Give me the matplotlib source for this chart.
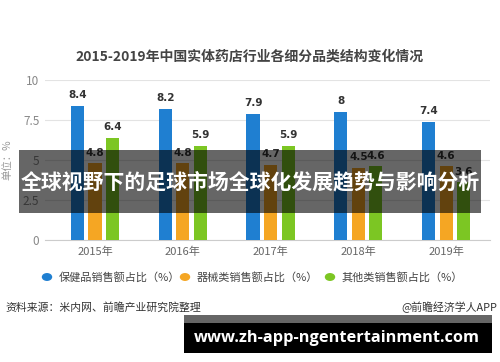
import matplotlib.pyplot as plt
import numpy as np
from matplotlib.patches import Rectangle

plt.rcParams['font.family'] = ['Noto Sans CJK SC', 'DejaVu Sans']

# data
years = ['2015年', '2016年', '2017年', '2018年', '2019年']
health = [8.4, 8.2, 7.9, 8, 7.4]
device = [4.8, 4.8, 4.7, 4.5, 4.6]
other = [6.4, 5.9, 5.9, 4.6, 3.6]
series_names = ['保健品销售额占比（%）', '器械类销售额占比（%）', '其他类销售额占比（%）']
y_ticks = [0, 2.5, 5, 7.5, 10]
y_tick_labels = ['0', '2.5', '5', '7.5', '10']

colors = ['#1f7fd1', '#f5a623', '#7cc623']

W, H = 500, 362
fig = plt.figure(figsize=(W / 100, H / 100), dpi=100)
ax = fig.add_axes([45 / W, (H - 240) / H, 445 / W, 160 / H])

x = np.arange(len(years))
bw = 0.15
for i, (vals, c) in enumerate(zip([health, device, other], colors)):
    pos = x + (i - 1) * 0.2
    bars = ax.bar(pos, vals, width=bw, color=c, zorder=3)
    for b, v in zip(bars, vals):
        ax.text(b.get_x() + b.get_width() / 2, v + 0.35, '{:g}'.format(v),
                ha='center', va='bottom', fontsize=7.5, fontweight='bold',
                color='#333333', family='DejaVu Sans', zorder=4)

ax.set_xlim(-0.57, 4.5)
ax.set_ylim(0, 10)
ax.set_yticks(y_ticks)
ax.set_yticklabels(y_tick_labels)
ax.set_xticks(x)
ax.set_xticklabels(years)
ax.tick_params(length=0, labelsize=8, colors='#666666', pad=4)
ax.tick_params(axis='x', pad=5)
for lbl in ax.get_yticklabels():
    lbl.set_color('#888888')
    lbl.set_fontsize(8.5)
ax.grid(axis='y', color='#e3e3e3', linewidth=0.8, zorder=0)
for s in ['top', 'right', 'left']:
    ax.spines[s].set_visible(False)
ax.spines['bottom'].set_color('#cccccc')
ax.set_ylabel('单位：%', fontsize=7.5, color='#999999')
ax.yaxis.set_label_coords(-0.074, 0.5)

# title
fig.text(250 / W, 1 - 57 / H, '2015-2019年中国实体药店行业各细分品类结构变化情况',
         ha='center', va='center', fontsize=10, fontweight='bold', color='#444444')

# legend
leg_x = [47, 185, 330]
for lx, name, c in zip(leg_x, series_names, colors):
    fig.patches.append(plt.Circle((lx / W, 1 - 277 / H), 4.5 / W, color=c,
                                  transform=fig.transFigure, figure=fig))
    fig.text((lx + 12) / W, 1 - 277 / H, name, ha='left', va='center',
             fontsize=8, color='#444444')

# source
fig.text(5 / W, 1 - 307 / H, '资料来源：米内网、前瞻产业研究院整理', ha='left', va='center',
         fontsize=7.8, color='#333333')
fig.text(497 / W, 1 - 307 / H, '@前瞻经济学人APP', ha='right', va='center',
         fontsize=7.8, color='#333333')

# overlay banner
fig.patches.append(Rectangle((19 / W, 1 - 213 / H), 462 / W, 63 / H, facecolor='black',
                             alpha=0.6, transform=fig.transFigure, figure=fig, zorder=10))
fig.text(250 / W, 1 - 182 / H, '全球视野下的足球市场全球化发展趋势与影响分析', ha='center',
         va='center', fontsize=15, fontweight='bold', color='white', zorder=11)

# bottom banner
fig.patches.append(Rectangle((184 / W, 1 - 323 / H), 308 / W, 8 / H, facecolor='#666666',
                             transform=fig.transFigure, figure=fig, zorder=10))
fig.patches.append(Rectangle((184 / W, 1 - 353 / H), 308 / W, 30 / H, facecolor='black',
                             transform=fig.transFigure, figure=fig, zorder=10))
fig.text(337 / W, 1 - 338 / H, 'www.zh-app-ngentertainment.com', ha='center', va='center',
         fontsize=11.8, fontweight='bold', color='white', family='Open Sans', zorder=11)

fig.savefig('out.png', dpi=100)
